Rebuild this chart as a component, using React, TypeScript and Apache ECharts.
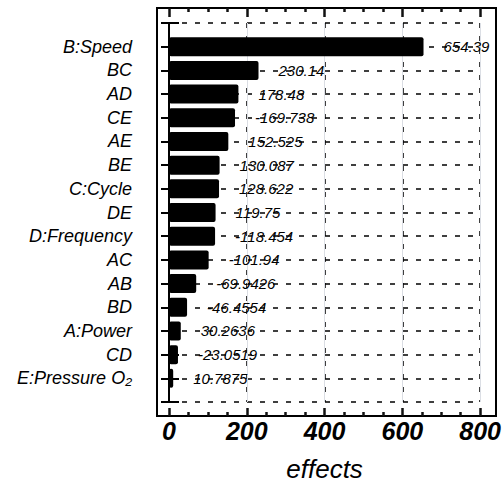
import React, { useEffect, useRef } from "react";
import * as echarts from "echarts";

const categories = [
  "B:Speed",
  "BC",
  "AD",
  "CE",
  "AE",
  "BE",
  "C:Cycle",
  "DE",
  "D:Frequency",
  "AC",
  "AB",
  "BD",
  "A:Power",
  "CD",
  "E:Pressure O₂",
];
const effects = [
  654.39, 230.14, 178.48, -169.738, 152.525, 130.087, 128.622, 119.75,
  -118.454, -101.94, -69.9426, -46.4554, 30.2636, -23.0519, 10.7875,
];
const xMin = 0;
const xMax = 800;
const xStep = 200;
const xName = "effects";

const FONT = "'Liberation Sans', Arial, sans-serif";

export default function App() {
  const ref = useRef<HTMLDivElement>(null);
  useEffect(() => {
    if (!ref.current) return;
    const chart = echarts.init(ref.current, null, { renderer: "svg" });
    const yData = ["", ...categories, ""];
    const barData: any[] = ["-", ...effects.map((v) => Math.abs(v)), "-"];
    const dash = { color: "#000", width: 1.5, type: [5, 8] as any };
    const xTick = { color: "#111", width: 2.5 };
    chart.setOption({
      animation: false,
      grid: { left: 169, right: 21, top: 23, bottom: 89, containLabel: false },
      xAxis: [
        {
          type: "value",
          position: "bottom",
          offset: 14,
          min: xMin,
          max: xMax,
          interval: xStep,
          name: xName,
          nameLocation: "middle",
          nameGap: 40,
          nameTextStyle: { fontFamily: FONT, fontStyle: "italic", fontSize: 26, color: "#000" },
          axisLine: { show: true, lineStyle: { color: "#000", width: 2 } },
          axisTick: { show: true, inside: true, length: 8, lineStyle: xTick },
          minorTick: { show: true, splitNumber: 4, length: 4, lineStyle: xTick },
          axisLabel: {
            fontFamily: FONT,
            fontStyle: "italic",
            fontWeight: "bold",
            fontSize: 25,
            color: "#000",
            margin: 2,
          },
          splitLine: { show: true, lineStyle: dash },
        },
        {
          type: "value",
          position: "top",
          offset: 15,
          min: xMin,
          max: xMax,
          interval: xStep,
          axisLine: { show: true, lineStyle: { color: "#000", width: 2 } },
          axisTick: { show: true, inside: true, length: 9, lineStyle: xTick },
          minorTick: { show: true, splitNumber: 4, length: 4, lineStyle: xTick },
          axisLabel: { show: false },
        },
      ],
      yAxis: [
        {
          type: "category",
          data: yData,
          inverse: true,
          boundaryGap: false,
          position: "left",
          offset: 12,
          axisLine: { show: true, lineStyle: { color: "#000", width: 2 } },
          axisTick: { show: true, inside: true, length: 10, interval: 0, lineStyle: { color: "#000", width: 2 } },
          axisLabel: {
            fontFamily: FONT,
            fontStyle: "italic",
            fontSize: 18,
            color: "#000",
            margin: 25,
            interval: 0,
          },
          splitLine: { show: true, interval: 0, lineStyle: dash },
        },
        {
          type: "category",
          data: yData,
          inverse: true,
          boundaryGap: false,
          position: "right",
          offset: 13,
          axisLine: { show: true, lineStyle: { color: "#000", width: 2 } },
          axisTick: { show: true, inside: true, length: 8, interval: 0, lineStyle: { color: "#000", width: 2 } },
          axisLabel: { show: false },
        },
      ],
      graphic: [
        {
          type: "rect",
          shape: { x: 157, y: 8, width: 339, height: 408 },
          style: { fill: "none", stroke: "#000", lineWidth: 2 },
          silent: true,
        },
      ],
      series: [
        {
          type: "bar",
          data: barData,
          barWidth: 19,
          itemStyle: { color: "#000", borderRadius: 2 },
          label: {
            show: true,
            position: "right",
            distance: 20,
            fontFamily: FONT,
            fontStyle: "italic",
            fontSize: 15,
            color: "#000",
            formatter: (p: any) => String(effects[p.dataIndex - 1]),
          },
        },
      ],
    });
    return () => chart.dispose();
  }, []);
  return (
    <div
      ref={ref}
      style={{ position: "fixed", left: 0, top: 0, width: 504, height: 491, background: "#fff" }}
    />
  );
}
